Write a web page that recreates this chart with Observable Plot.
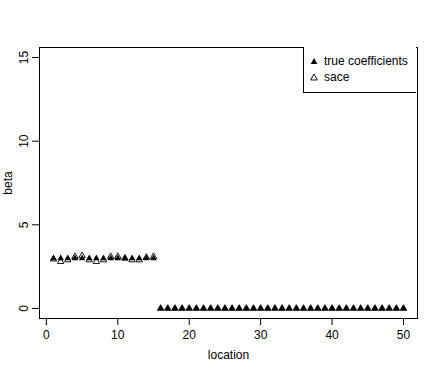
<!DOCTYPE html>
<html>
<head>
<meta charset="utf-8">
<script src="https://cdn.jsdelivr.net/npm/d3@7"></script>
<script src="https://cdn.jsdelivr.net/npm/@observablehq/plot@0.6"></script>
<style>
  html, body { margin: 0; padding: 0; background: #fff; }
  #wrap { position: relative; width: 436px; height: 374px; font-family: "Liberation Sans", Arial, sans-serif; }
  #legend { position: absolute; left: 303px; top: 47px; width: 113px; height: 46px; border: 1px solid #000; border-right: none; border-top: none; background: #fff; box-sizing: border-box; font-size: 12px; color: #000; }
  .row { position: absolute; left: 5px; display: flex; align-items: center; }
  .row svg { margin-right: 5px; }
</style>
</head>
<body>
<div id="wrap">
  <div id="chart"></div>
  <div id="legend">
    <div class="row" style="top:7px"><svg width="10" height="10"><path d="M5,2 L8.3,8 L1.7,8 Z" fill="#000"/></svg><span>true coefficients</span></div>
    <div class="row" style="top:23px"><svg width="10" height="10"><path d="M5,2 L8.3,8 L1.7,8 Z" fill="none" stroke="#000" stroke-width="0.9"/></svg><span>sace</span></div>
  </div>
</div>
<script>
const location_ = [1,2,3,4,5,6,7,8,9,10,11,12,13,14,15,16,17,18,19,20,21,22,23,24,25,26,27,28,29,30,31,32,33,34,35,36,37,38,39,40,41,42,43,44,45,46,47,48,49,50];
const trueCoefficients = [3,3,3,3,3,3,3,3,3,3,3,3,3,3,3,0,0,0,0,0,0,0,0,0,0,0,0,0,0,0,0,0,0,0,0,0,0,0,0,0,0,0,0,0,0,0,0,0,0,0];
const sace = [2.95,2.8,2.9,3.1,3.15,2.9,2.8,2.9,3.1,3.1,3.0,2.9,2.9,3.05,3.1,0,0,0,0,0,0,0,0,0,0,0,0,0,0,0,0,0,0,0,0,0,0,0,0,0,0,0,0,0,0,0,0,0,0,0];
const xTicks = [0,10,20,30,40,50];
const yTicks = [0,5,10,15];

const trueData = location_.map((l, i) => ({location: l, beta: trueCoefficients[i]}));
const saceData = location_.map((l, i) => ({location: l, beta: sace[i]}));

const chart = Plot.plot({
  width: 436,
  height: 374,
  marginLeft: 39,
  marginRight: 19,
  marginTop: 47,
  marginBottom: 56,
  style: {fontFamily: '"Liberation Sans", Arial, sans-serif', fontSize: "12px", color: "#000", background: "#fff"},
  x: {domain: [-0.96, 51.96]},
  y: {domain: [-0.6, 15.6]},
  marks: [
    Plot.frame({stroke: "#000", strokeWidth: 1}),
    Plot.axisX({ticks: xTicks, tickSize: 7, tickPadding: 5, fontSize: 12, label: "location", labelAnchor: "center", labelArrow: "none", labelOffset: 40}),
    Plot.axisY({ticks: yTicks, tickSize: 7, tickPadding: 5, tickRotate: -90, fontSize: 12, label: "beta", labelAnchor: "center", labelArrow: "none", labelOffset: 36}),
    Plot.dot(trueData, {x: "location", y: "beta", symbol: "triangle", r: 2.4, fill: "#000", stroke: null}),
    Plot.dot(saceData, {x: "location", y: "beta", symbol: "triangle", r: 2.4, fill: "none", stroke: "#000", strokeWidth: 0.9})
  ]
});
document.getElementById("chart").appendChild(chart);
</script>
</body>
</html>
